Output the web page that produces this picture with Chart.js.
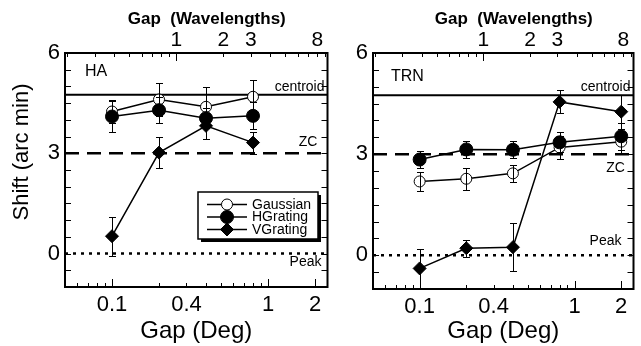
<!DOCTYPE html>
<html>
<head>
<meta charset="utf-8">
<script src="https://cdn.jsdelivr.net/npm/chart.js@4.4.1/dist/chart.umd.min.js"></script>
<style>
  body { margin: 0; background: #fff; }
  #wrap { position: relative; width: 641px; height: 346px; overflow: hidden; }
  canvas { position: absolute; top: 0; }
</style>
</head>
<body>
<div id="wrap">
  <canvas id="haChart" width="335" height="346" style="left:0"></canvas>
  <canvas id="trnChart" width="306" height="346" style="left:335px"></canvas>
</div>
<script>
const FONT = "'Liberation Sans', Arial, Helvetica, sans-serif";
const DEG_PER_WAVELENGTH = 0.258;
const GAP_MIN = 0.05;
const GAP_MAX = 2.4;

// axis ticks
const degTickValues = [0.1, 0.3, 1, 2];
const degTickLabels = ["0.1", "0.4", "1", "2"];
const degMajorMarks = [0.1, 1, 2];
const degMinorMarks = [0.06, 0.07, 0.08, 0.09, 0.2, 0.3, 0.4, 0.5, 0.6, 0.7, 0.8, 0.9];
const wavelengthTicks = [1, 2, 3, 8];
const wavelengthMajorMarks = [1];
const wavelengthMinorMarks = [0.2, 0.3, 0.4, 0.5, 0.6, 0.7, 0.8, 0.9, 2, 3, 4, 5, 6, 7, 8, 9];
const shiftTicks = [0, 3, 6];

// reference levels
const centroidLevel = 4.75;
const zcLevel = 3;
const peakLevel = 0;

// HA panel
const haGap = [0.1, 0.2, 0.4, 0.8];
const haGaussian = [4.25, 4.61, 4.39, 4.69];
const haGaussianErr = [0.35, 0.48, 0.6, 0.5];
const haHGrating = [4.1, 4.29, 4.05, 4.12];
const haHGratingErr = [0.45, 0.39, 0.3, 0.4];
const haVGrating = [0.52, 3.02, 3.82, 3.32];
const haVGratingErr = [0.58, 0.46, 0.39, 0.33];

// TRN panel
const trnGap = [0.1, 0.2, 0.4, 0.8, 2];
const trnGaussian = [2.19, 2.27, 2.43, 3.2, 3.37];
const trnGaussianErr = [0.27, 0.33, 0.25, 0.34, 0.37];
const trnHGrating = [2.84, 3.14, 3.13, 3.35, 3.53];
const trnHGratingErr = [0.24, 0.25, 0.25, 0.3, 0.4];
const trnVGrating = [-0.39, 0.21, 0.24, 4.55, 4.26];
const trnVGratingErr = [0.58, 0.25, 0.72, 0.34, 0.5];

Chart.defaults.font.family = FONT;
Chart.defaults.color = "#000";

function drawMarker(ctx, style, x, y, r, fill) {
  ctx.beginPath();
  if (style === "rectRot") {
    ctx.moveTo(x, y - r);
    ctx.lineTo(x + r, y);
    ctx.lineTo(x, y + r);
    ctx.lineTo(x - r, y);
    ctx.closePath();
  } else {
    ctx.arc(x, y, r, 0, Math.PI * 2);
  }
  ctx.fillStyle = fill;
  ctx.fill();
  ctx.lineWidth = 1;
  ctx.strokeStyle = "#000";
  ctx.stroke();
}

const errorBarPlugin = {
  id: "errorBars",
  afterDatasetsDraw(chart) {
    const ctx = chart.ctx;
    const a = chart.chartArea;
    const yScale = chart.scales.y;
    ctx.save();
    ctx.beginPath();
    ctx.rect(a.left, a.top, a.width, a.height);
    ctx.clip();
    ctx.strokeStyle = "#000";
    ctx.lineWidth = 1;
    chart.data.datasets.forEach((ds, i) => {
      if (!ds.errors) return;
      const meta = chart.getDatasetMeta(i);
      meta.data.forEach((pt, j) => {
        const v = ds.data[j].y;
        const e = ds.errors[j];
        const x = Math.round(pt.x) + 0.5;
        const yTop = Math.round(yScale.getPixelForValue(v + e)) + 0.5;
        const yBot = Math.round(yScale.getPixelForValue(v - e)) + 0.5;
        ctx.beginPath();
        ctx.moveTo(x, yTop);
        ctx.lineTo(x, yBot);
        ctx.moveTo(x - 3.5, yTop);
        ctx.lineTo(x + 3.5, yTop);
        ctx.moveTo(x - 3.5, yBot);
        ctx.lineTo(x + 3.5, yBot);
        ctx.stroke();
      });
    });
    ctx.restore();
  },
};

const frameTicksPlugin = {
  id: "frameTicks",
  afterDraw(chart) {
    const ctx = chart.ctx;
    const a = chart.chartArea;
    const s = chart.scales;
    ctx.save();
    ctx.strokeStyle = "#000";
    ctx.lineWidth = 1;
    ctx.beginPath();
    const vmark = (x, y, len) => {
      const px = Math.round(x) + 0.5;
      ctx.moveTo(px, y);
      ctx.lineTo(px, y + len);
    };
    degMinorMarks.forEach((v) => vmark(s.x.getPixelForValue(v), a.bottom, -4));
    degMajorMarks.forEach((v) => vmark(s.x.getPixelForValue(v), a.bottom, -8));
    wavelengthMinorMarks.forEach((v) => vmark(s.x2.getPixelForValue(v), a.top, 4));
    wavelengthMajorMarks.forEach((v) => vmark(s.x2.getPixelForValue(v), a.top, 8));
    for (let v = -0.5; v < 6; v += 0.5) {
      const py = Math.round(s.y.getPixelForValue(v)) + 0.5;
      ctx.moveTo(a.left, py);
      ctx.lineTo(a.left + 6, py);
      ctx.moveTo(a.right, py);
      ctx.lineTo(a.right - 6, py);
    }
    ctx.stroke();
    ctx.lineWidth = 2;
    ctx.strokeRect(a.left, a.top, a.width, a.height);
    ctx.restore();
  },
};

const textPlugin = {
  id: "panelText",
  afterDraw(chart, args, opts) {
    const ctx = chart.ctx;
    const a = chart.chartArea;
    const y = chart.scales.y;
    const cx = (a.left + a.right) / 2;
    ctx.save();
    ctx.fillStyle = "#000";
    ctx.textBaseline = "middle";

    ctx.font = "bold 17px " + FONT;
    ctx.textAlign = "center";
    ctx.fillText("Gap  (Wavelengths)", cx + 10.5, 19);

    ctx.font = "24px " + FONT;
    ctx.fillText("Gap (Deg)", cx, 331);

    if (opts.yTitle) {
      ctx.save();
      ctx.translate(22, 152);
      ctx.rotate(-Math.PI / 2);
      ctx.font = "22px " + FONT;
      ctx.fillText("Shift (arc min)", 0, 0);
      ctx.restore();
    }

    ctx.font = "16px " + FONT;
    ctx.textAlign = "left";
    ctx.fillText(opts.name, a.left + opts.nameDx, a.top + opts.nameDy);

    ctx.font = "14px " + FONT;
    opts.labels.forEach((l) => {
      ctx.textAlign = l.align;
      ctx.fillText(l.text, a.right + l.dx, y.getPixelForValue(l.level) + l.dy);
    });
    ctx.restore();
  },
};

const legendPlugin = {
  id: "boxLegend",
  afterDraw(chart, args, opts) {
    if (!opts.show) return;
    const ctx = chart.ctx;
    const bx = 198, by = 192, bw = 120, bh = 47;
    ctx.save();
    ctx.fillStyle = "#000";
    ctx.fillRect(bx + 3, by + 3, bw, bh);
    ctx.fillStyle = "#fff";
    ctx.fillRect(bx, by, bw, bh);
    ctx.strokeStyle = "#000";
    ctx.lineWidth = 1.5;
    ctx.strokeRect(bx, by, bw, bh);
    const rows = [204.5, 217, 229.5];
    ctx.font = "14px " + FONT;
    ctx.textBaseline = "middle";
    ctx.textAlign = "left";
    for (let i = 0; i < 3; i++) {
      const ds = chart.data.datasets[i];
      const ry = rows[i];
      ctx.beginPath();
      ctx.moveTo(207, ry);
      ctx.lineTo(247, ry);
      ctx.lineWidth = 1.5;
      ctx.strokeStyle = "#000";
      ctx.stroke();
      drawMarker(ctx, ds.pointStyle, 227, ry, ds.pointRadius, ds.backgroundColor);
      ctx.fillStyle = "#000";
      ctx.fillText(ds.label, 252, ry + 0.5);
    }
    ctx.restore();
  },
};

function buildDatasets(gap, gauss, gaussErr, hgr, hgrErr, vgr, vgrErr) {
  const pts = (ys) => ys.map((v, i) => ({ x: gap[i], y: v }));
  const ref = (level) => [
    { x: GAP_MIN, y: level },
    { x: GAP_MAX, y: level },
  ];
  const series = {
    borderColor: "#000",
    borderWidth: 1.5,
    pointBorderColor: "#000",
    pointBorderWidth: 1,
    tension: 0,
  };
  return [
    Object.assign({}, series, { label: "Gaussian", data: pts(gauss), errors: gaussErr, pointStyle: "circle", pointRadius: 5.5, backgroundColor: "#fff", order: 2 }),
    Object.assign({}, series, { label: "HGrating", data: pts(hgr), errors: hgrErr, pointStyle: "circle", pointRadius: 6.5, backgroundColor: "#000", order: 1 }),
    Object.assign({}, series, { label: "VGrating", data: pts(vgr), errors: vgrErr, pointStyle: "rectRot", pointRadius: 6.5, backgroundColor: "#000", order: 0 }),
    { label: "centroid", data: ref(centroidLevel), borderColor: "#000", borderWidth: 2, pointRadius: 0, order: 5 },
    { label: "ZC", data: ref(zcLevel), borderColor: "#000", borderWidth: 2.5, borderDash: [14, 8], pointRadius: 0, order: 5 },
    { label: "Peak", data: ref(peakLevel), borderColor: "#000", borderWidth: 2.5, borderDash: [3, 5], pointRadius: 0, order: 5 },
  ];
}

function makePanel(canvasId, datasets, p) {
  const ctx = document.getElementById(canvasId).getContext("2d");
  return new Chart(ctx, {
    type: "line",
    data: { datasets: datasets },
    options: {
      responsive: false,
      animation: false,
      events: [],
      layout: { padding: { left: 0, right: p.padRight, top: 0, bottom: 0 } },
      plugins: {
        legend: { display: false },
        tooltip: { enabled: false },
        panelText: p.text,
        boxLegend: { show: p.legend },
      },
      scales: {
        x: {
          type: "logarithmic",
          position: "bottom",
          min: GAP_MIN,
          max: GAP_MAX,
          grid: { display: false, drawTicks: false },
          border: { display: false },
          afterBuildTicks: (s) => {
            s.ticks = degTickValues.map((v) => ({ value: v }));
          },
          afterFit: (s) => {
            s.height = p.bottomHeight;
          },
          ticks: {
            autoSkip: false,
            maxRotation: 0,
            padding: 5,
            font: { size: 22 },
            callback: (v, i) => degTickLabels[i],
          },
        },
        x2: {
          type: "logarithmic",
          position: "top",
          min: GAP_MIN / DEG_PER_WAVELENGTH,
          max: GAP_MAX / DEG_PER_WAVELENGTH,
          grid: { display: false, drawTicks: false },
          border: { display: false },
          afterBuildTicks: (s) => {
            s.ticks = wavelengthTicks.map((v) => ({ value: v }));
          },
          afterFit: (s) => {
            s.height = 53;
          },
          ticks: {
            autoSkip: false,
            maxRotation: 0,
            padding: 0,
            font: { size: 21 },
            callback: (v, i) => String(wavelengthTicks[i]),
          },
        },
        y: {
          type: "linear",
          min: -1,
          max: 6,
          grid: { display: false, drawTicks: false },
          border: { display: false },
          afterBuildTicks: (s) => {
            s.ticks = shiftTicks.map((v) => ({ value: v }));
          },
          afterFit: (s) => {
            s.width = p.leftWidth;
          },
          ticks: {
            padding: 5,
            font: { size: 22 },
            callback: (v) => String(v),
          },
        },
      },
    },
    plugins: [errorBarPlugin, frameTicksPlugin, textPlugin, legendPlugin],
  });
}

makePanel(
  "haChart",
  buildDatasets(haGap, haGaussian, haGaussianErr, haHGrating, haHGratingErr, haVGrating, haVGratingErr),
  {
    padRight: 6,
    leftWidth: 65,
    bottomHeight: 59,
    legend: true,
    text: {
      yTitle: true,
      name: "HA",
      nameDx: 20,
      nameDy: 19,
      labels: [
        { text: "centroid", level: centroidLevel, dx: -3, dy: -8, align: "right" },
        { text: "ZC", level: zcLevel, dx: -19.5, dy: -11, align: "center" },
        { text: "Peak", level: peakLevel, dx: -22, dy: 9, align: "center" },
      ],
    },
  }
);

makePanel(
  "trnChart",
  buildDatasets(trnGap, trnGaussian, trnGaussianErr, trnHGrating, trnHGratingErr, trnVGrating, trnVGratingErr),
  {
    padRight: 2,
    leftWidth: 38,
    bottomHeight: 57,
    legend: false,
    text: {
      yTitle: false,
      name: "TRN",
      nameDx: 18,
      nameDy: 24,
      labels: [
        { text: "centroid", level: centroidLevel, dx: -3, dy: -8, align: "right" },
        { text: "ZC", level: zcLevel, dx: -18, dy: 14, align: "center" },
        { text: "Peak", level: peakLevel, dx: -28, dy: -14, align: "center" },
      ],
    },
  }
);
</script>
</body>
</html>
